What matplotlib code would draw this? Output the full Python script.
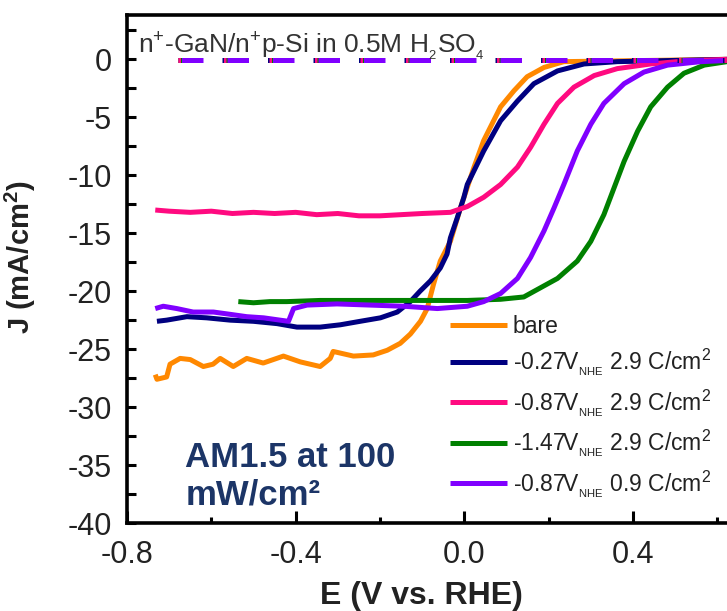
import matplotlib.pyplot as plt
from matplotlib.ticker import MultipleLocator

plt.rcParams['font.family'] = ['Liberation Sans', 'DejaVu Sans']
plt.rcParams['mathtext.fontset'] = 'custom'
plt.rcParams['mathtext.rm'] = 'Liberation Sans'
plt.rcParams['mathtext.bf'] = 'Liberation Sans:bold'
plt.rcParams['mathtext.it'] = 'Liberation Sans:italic'
plt.rcParams['axes.unicode_minus'] = False

# photocurrent curves (E in V vs RHE, J in mA/cm2)
bare_E = [-0.733, -0.729, -0.706, -0.698, -0.674, -0.650, -0.619, -0.596, -0.579, -0.548,
          -0.516, -0.477, -0.429, -0.389, -0.342, -0.318, -0.311, -0.263, -0.216, -0.183,
          -0.152, -0.128, -0.104, -0.088, -0.073, -0.057, -0.033, -0.009, 0.023, 0.046,
          0.086, 0.118, 0.149, 0.189, 0.236, 0.623]
bare_J = [-27.2, -27.6, -27.4, -26.3, -25.8, -25.9, -26.5, -26.3, -25.8, -26.5,
          -25.8, -26.2, -25.6, -26.1, -26.5, -25.8, -25.2, -25.6, -25.5, -25.1,
          -24.5, -23.7, -22.6, -21.5, -19.4, -17.4, -15.7, -12.8, -9.3, -7.0,
          -4.1, -2.7, -1.5, -0.7, -0.2, 0.0]

n027_E = [-0.729, -0.706, -0.658, -0.611, -0.555, -0.500, -0.444, -0.397, -0.342, -0.294,
          -0.247, -0.199, -0.159, -0.128, -0.105, -0.080, -0.057, -0.041, -0.033, -0.017,
          -0.001, 0.007, 0.046, 0.086, 0.126, 0.165, 0.221, 0.284, 0.363, 0.623]
n027_J = [-22.6, -22.5, -22.2, -22.3, -22.5, -22.6, -22.8, -23.1, -23.1, -22.9,
          -22.6, -22.3, -21.8, -20.9, -20.0, -19.1, -18.0, -16.8, -15.4, -13.7,
          -11.9, -10.8, -7.9, -5.3, -3.6, -2.1, -1.0, -0.4, -0.2, 0.0]

n087_E = [-0.733, -0.70, -0.65, -0.60, -0.55, -0.50, -0.45, -0.40, -0.35, -0.30,
          -0.25, -0.20, -0.15, -0.10, -0.033, 0.007, 0.046, 0.086, 0.126, 0.157,
          0.189, 0.221, 0.260, 0.308, 0.363, 0.442, 0.521, 0.623]
n087_J = [-13.0, -13.1, -13.2, -13.1, -13.3, -13.2, -13.3, -13.2, -13.4, -13.3,
          -13.5, -13.5, -13.4, -13.3, -13.2, -12.7, -11.9, -10.8, -9.3, -7.6,
          -5.6, -3.8, -2.4, -1.4, -0.8, -0.4, -0.15, 0.0]

n147_E = [-0.536, -0.500, -0.461, -0.421, -0.342, -0.262, -0.183, -0.104, 0.007, 0.086,
          0.141, 0.181, 0.221, 0.268, 0.300, 0.331, 0.355, 0.379, 0.411, 0.442,
          0.482, 0.521, 0.569, 0.623]
n147_J = [-20.9, -21.0, -20.9, -20.9, -20.8, -20.8, -20.8, -20.8, -20.8, -20.7,
          -20.5, -19.7, -18.9, -17.4, -15.7, -13.4, -11.1, -8.8, -6.2, -4.1,
          -2.4, -1.2, -0.5, -0.2]

n087b_E = [-0.733, -0.714, -0.682, -0.643, -0.595, -0.555, -0.516, -0.476, -0.437, -0.417,
           -0.405, -0.373, -0.302, -0.223, -0.144, -0.064, 0.007, 0.046, 0.086, 0.126,
           0.157, 0.189, 0.213, 0.236, 0.268, 0.300, 0.331, 0.379, 0.426, 0.482,
           0.561, 0.623]
n087b_J = [-21.5, -21.3, -21.5, -21.8, -21.8, -22.0, -22.2, -22.3, -22.5, -22.6,
           -21.5, -21.2, -21.1, -21.2, -21.3, -21.5, -21.3, -20.9, -20.2, -18.9,
           -17.1, -14.8, -12.8, -10.8, -7.9, -5.6, -3.8, -2.1, -1.1, -0.5,
           -0.2, -0.1]

# dark currents (dashed)
dark_E = [-0.68, 0.623]
dark_J = [-0.1, -0.1]

labels = ['bare',
          r'-0.27V$_{{}_{\mathrm{NHE}}}$ 2.9 C/cm$^{2}$',
          r'-0.87V$_{{}_{\mathrm{NHE}}}$ 2.9 C/cm$^{2}$',
          r'-1.47V$_{{}_{\mathrm{NHE}}}$ 2.9 C/cm$^{2}$',
          r'-0.87V$_{{}_{\mathrm{NHE}}}$ 0.9 C/cm$^{2}$']
colors = ['#ff8800', '#000080', '#ff0a80', '#008000', '#8000ff']
curves = [(bare_E, bare_J), (n027_E, n027_J), (n087_E, n087_J),
          (n147_E, n147_J), (n087b_E, n087b_J)]

fig = plt.figure(figsize=(7.27, 6.11), dpi=100)
ax = fig.add_axes([0.1747, 0.144, 0.8253, 0.831])

handles = []
for (E, J), c, lab in zip(curves, colors, labels):
    h, = ax.plot(E, J, color=c, lw=3.6, label=lab, solid_capstyle='butt')
    handles.append(h)

# dashes of the dark scans sit almost on top of each other, slightly shifted
offsets = [0.2, 0.3, 0.0, -0.5, -0.7]
for c, off in zip(colors, offsets):
    ax.plot(dark_E, dark_J, color=c, lw=3.6, linestyle=(off, (4.3, 4.8)))

ax.set_xlim(-0.8, 0.623)
ax.set_ylim(-40, 3.8)
ax.xaxis.set_major_locator(MultipleLocator(0.4))
ax.xaxis.set_minor_locator(MultipleLocator(0.2))
ax.yaxis.set_major_locator(MultipleLocator(5))
ax.yaxis.set_minor_locator(MultipleLocator(2.5))
ax.xaxis.set_major_formatter(plt.FuncFormatter(lambda v, p: '%.1f' % v))

for s in ['left', 'bottom', 'top']:
    ax.spines[s].set_linewidth(2.6)
ax.spines['right'].set_visible(False)

ax.tick_params(axis='x', which='major', direction='in', length=9, width=2.2,
               labelsize=22, pad=12, labelcolor='#222222', top=False)
ax.tick_params(axis='x', which='minor', direction='in', length=4.5, width=2.2, top=False)
ax.tick_params(axis='y', which='both', direction='in', length=6.5, width=2.2,
               labelsize=22, pad=11, labelcolor='#222222', right=False)

ax.set_xlabel('E (V vs. RHE)', fontsize=23, fontweight='bold', color='#222222')
ax.xaxis.set_label_coords(0.49, -0.115)
ax.set_ylabel(r'J (mA/cm$^{\mathbf{2}}$)', fontsize=21, fontweight='bold', color='#222222')
ax.yaxis.set_label_coords(-0.148, 0.524)

ax.text(0.018, 0.925, r'n$^{+}$-GaN/n$^{+}$p-Si in 0.5M H$_{{}_{2}}$SO$_{{}_{4}}$',
        transform=ax.transAxes, fontsize=19, color='#333333', va='baseline')

ax.text(0.097, 0.037, 'AM1.5 at 100\nmW/cm²', transform=ax.transAxes,
        fontsize=25, fontweight='bold', color='#1c3567', va='baseline',
        linespacing=1.15)

ax.legend(handles=handles, loc='upper left', bbox_to_anchor=(0.538, 0.41),
          frameon=False, fontsize=16.5, handlelength=2.5, handletextpad=0.25,
          labelspacing=0.38, borderpad=0, borderaxespad=0, labelcolor='#222222')

fig.savefig('out.png', dpi=100)
